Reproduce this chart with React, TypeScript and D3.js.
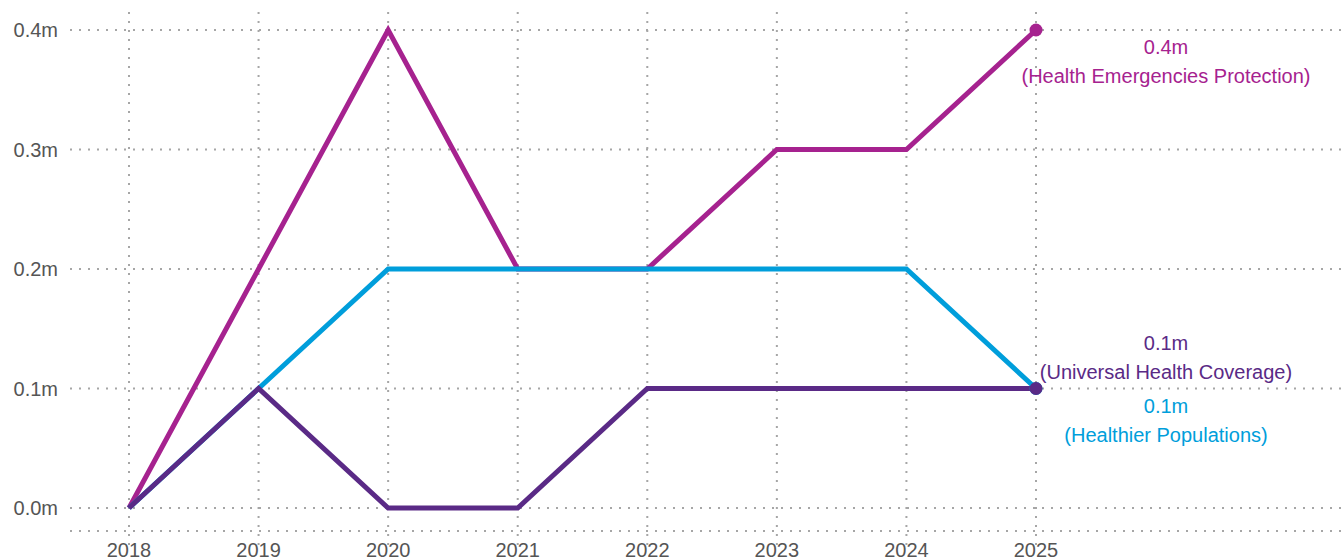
import React from "react";
import * as d3 from "d3";

const years = [2018, 2019, 2020, 2021, 2022, 2023, 2024, 2025];
const emergencies = [0, 0.2, 0.4, 0.2, 0.2, 0.3, 0.3, 0.4];
const populations = [0, 0.1, 0.2, 0.2, 0.2, 0.2, 0.2, 0.1];
const coverage = [0, 0.1, 0, 0, 0.1, 0.1, 0.1, 0.1];
const yTicks = [0, 0.1, 0.2, 0.3, 0.4];

const seriesList = [
  { name: "Health Emergencies Protection", values: emergencies, color: "#A6228F", labelDy: [17, 46] },
  { name: "Healthier Populations", values: populations, color: "#009EDB", labelDy: [17, 46] },
  { name: "Universal Health Coverage", values: coverage, color: "#5A2A86", labelDy: [-46, -17] },
];

const W = 1341;
const H = 559;

export default function App() {
  const x = d3.scaleLinear().domain([2018, 2025]).range([129, 1036]);
  const y = d3.scaleLinear().domain([0, 0.4]).range([508, 30]);
  const line = d3
    .line<number>()
    .x((_, i) => x(years[i]))
    .y((d) => y(d));
  const fmt = (v: number) => `${d3.format(".1f")(v)}m`;
  const grid = "#a6a6a6";
  const font = "'Liberation Sans', Arial, sans-serif";
  const labelX = 1166;
  const last = years.length - 1;

  return (
    <svg width={W} height={H} style={{ position: "absolute", left: 0, top: 0, fontFamily: font }}>
      {/* vertical gridlines */}
      {years.map((yr) => (
        <line key={`v${yr}`} x1={x(yr)} x2={x(yr)} y1={12} y2={545} stroke={grid} strokeWidth={2} strokeDasharray="2 7" />
      ))}
      {/* horizontal gridlines */}
      {yTicks.map((t) => (
        <line key={`h${t}`} x1={70} x2={W} y1={y(t)} y2={y(t)} stroke={grid} strokeWidth={2} strokeDasharray="2 7" />
      ))}
      <line x1={70} x2={W} y1={531} y2={531} stroke={grid} strokeWidth={2} strokeDasharray="2 7" />

      {/* y axis labels */}
      {yTicks.map((t) => (
        <text key={`yl${t}`} x={58} y={y(t)} dy="0.35em" textAnchor="end" fontSize={20} fill="#555">
          {fmt(t)}
        </text>
      ))}
      {/* x axis labels */}
      {years.map((yr) => (
        <text key={`xl${yr}`} x={x(yr)} y={557} textAnchor="middle" fontSize={20} fill="#555">
          {yr}
        </text>
      ))}

      {/* series lines */}
      {seriesList.map((s) => (
        <path key={s.name} d={line(s.values) ?? ""} fill="none" stroke={s.color} strokeWidth={5} />
      ))}
      {/* end markers and labels */}
      {seriesList.map((s) => {
        const v = s.values[last];
        const cy = y(v);
        return (
          <g key={`end-${s.name}`}>
            <circle cx={x(years[last])} cy={cy} r={6.5} fill={s.color} />
            <text x={labelX} y={cy + s.labelDy[0]} dy="0.35em" textAnchor="middle" fontSize={20} fill={s.color}>
              {fmt(v)}
            </text>
            <text x={labelX} y={cy + s.labelDy[1]} dy="0.35em" textAnchor="middle" fontSize={20} fill={s.color}>
              ({s.name})
            </text>
          </g>
        );
      })}
    </svg>
  );
}
